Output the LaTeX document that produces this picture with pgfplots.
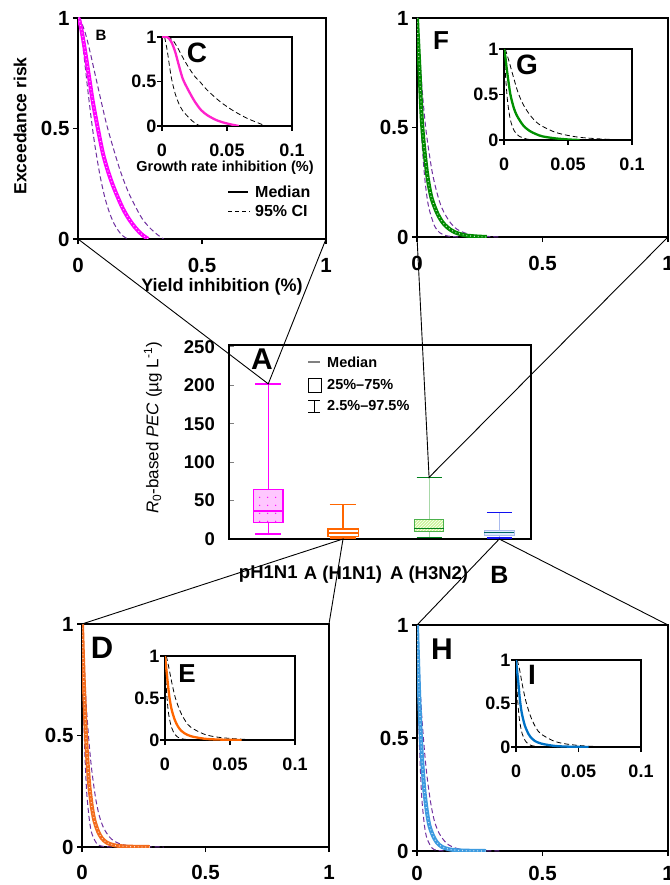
\documentclass[border=0pt]{standalone}
\usepackage{fontspec}
\setmainfont{Liberation Sans}
\usepackage{pgfplots}
\pgfplotsset{compat=1.18}
\usepgfplotslibrary{statistics}
\usetikzlibrary{patterns,patterns.meta}

\definecolor{cipurple}{HTML}{7030A0}
\definecolor{mag}{HTML}{FF00FF}
\definecolor{magin}{HTML}{FF22CC}
\definecolor{gmain}{HTML}{008A00}
\definecolor{gin}{HTML}{009000}
\definecolor{omain}{HTML}{F26B1D}
\definecolor{oin}{HTML}{FF6600}
\definecolor{bmain}{HTML}{3D9BE0}
\definecolor{bin}{HTML}{0072C6}
\definecolor{hgreen}{HTML}{CCF59A}
\definecolor{dgreen}{HTML}{00801A}
\definecolor{lgreen}{HTML}{A8D8A8}
\definecolor{lblue}{HTML}{AABBEE}
\definecolor{bblue}{HTML}{1010F0}
\definecolor{bfill}{HTML}{DDE8FF}

\newcommand{\fs}[1]{\fontsize{#1}{#1}\selectfont}

\tikzdeclarepattern{
  name=sdots,
  type=uncolored,
  bounding box={(0pt,0pt) and (8pt,8pt)},
  tile size={(8pt,8pt)},
  code={\fill (4pt,4pt) circle (0.8pt);}
}

\pgfplotsset{
  curvebase/.style={scale only axis, anchor=south west, ymin=0, ymax=1, xmin=0,
    ytick={0,0.5,1}, yticklabels={0,0.5,1},
    tick align=outside, tick pos=left,
    major tick length=5pt, tick style={black, line width=1.5pt},
    axis line style={line width=2pt},
    axis background/.style={fill=white},
  },
  mainp/.style={curvebase, xmax=1, xtick={0,0.5,1}, xticklabels={0,0.5,1},
    every tick label/.append style={font=\bfseries\fs{20.5}},
    xticklabel style={yshift=-11pt}},
  insetp/.style={curvebase, xmax=0.1, xtick={0,0.05,0.1}, xticklabels={0,0.05,0.1},
    every tick label/.append style={font=\bfseries\fs{18}},
    xticklabel style={yshift=-9pt}, yticklabel style={xshift=3pt}},
  ci/.style={cipurple, dash pattern=on 5pt off 3pt, line width=1pt, smooth},
  cii/.style={black, dash pattern=on 5pt off 3pt, line width=0.8pt, smooth},
  medmain/.style={line width=4pt, smooth},
  meddots/.style={white, line width=1.2pt, dash pattern=on 0.8pt off 3pt, smooth, opacity=0.75},
  medin/.style={line width=2.3pt, smooth},
}

\begin{document}
\begin{tikzpicture}
\useasboundingbox (0pt,0pt) rectangle (669pt,-885pt);

% ---------------- Panel A (box plots) ----------------
\begin{axis}[at={(229pt,-539pt)}, anchor=south west, scale only axis,
  width=302pt, height=194pt, xmin=0, xmax=4, ymin=0, ymax=252.6,
  boxplot/draw direction=y,
  ytick={0,50,100,150,200,250}, yticklabels={0,50,100,150,200,250},
  tick align=inside, ytick pos=left, major tick length=5pt,
  y tick style={gray, line width=1pt},
  xtick={0.52,1.51,2.65,3.58}, xticklabels={pH1N1,A (H1N1),A (H3N2),{\fs{25}B}},
  x tick style={draw=none},
  axis line style={line width=1.8pt},
  every tick label/.append style={font=\bfseries\fs{18.5}, inner sep=0pt},
  xticklabel style={anchor=north, yshift=-27pt},
  yticklabel style={xshift=-14pt}]
% pH1N1
\addplot[mag, line width=1.2pt, boxplot prepared={draw position=0.52,
  lower whisker=6.5, lower quartile=21.2, median=36.5, upper quartile=64.7,
  upper whisker=202, box extend=0.39, whisker extend=0.35},
  boxplot/every box/.style={fill=mag!22, postaction={pattern=sdots, pattern color=mag}}]
  coordinates {};
\addplot[mag, line width=1.6pt] coordinates {(0.345,202) (0.695,202)};
\addplot[mag, line width=1.6pt] coordinates {(0.345,6.5) (0.695,6.5)};
% A (H1N1)
\addplot[oin, line width=1.2pt, boxplot prepared={draw position=1.51,
  lower whisker=1.3, lower quartile=3, median=7.8, upper quartile=13,
  upper whisker=45, box extend=0.4, whisker extend=0.35},
  boxplot/every box/.style={fill=white}]
  coordinates {};
\addplot[oin, line width=1.8pt] coordinates {(1.335,45) (1.685,45)};
\addplot[oin, line width=1.6pt] coordinates {(1.335,1.3) (1.685,1.3)};
% A (H3N2)
\addplot[lgreen, line width=1pt, boxplot prepared={draw position=2.65,
  lower whisker=2.2, lower quartile=10.4, median=13.9, upper quartile=25.6,
  upper whisker=80.3, box extend=0.39, whisker extend=0.33},
  boxplot/every box/.style={draw=gin!70, fill=hgreen, postaction={pattern=north east lines, pattern color=white}},
  boxplot/every median/.style={draw=dgreen, line width=1.2pt}]
  coordinates {};
\addplot[dgreen, line width=1.6pt] coordinates {(2.485,80.3) (2.815,80.3)};
\addplot[dgreen, line width=1.6pt] coordinates {(2.485,2.2) (2.815,2.2)};
% B
\addplot[lblue, line width=1pt, boxplot prepared={draw position=3.58,
  lower whisker=1.7, lower quartile=4.8, median=8.2, upper quartile=10.8,
  upper whisker=34.7, box extend=0.4, whisker extend=0.33},
  boxplot/every box/.style={draw=lblue, fill=bfill},
  boxplot/every median/.style={draw=teal!80!black, line width=1.2pt}]
  coordinates {};
\addplot[bblue, line width=1.6pt] coordinates {(3.415,34.7) (3.745,34.7)};
\addplot[bblue, line width=1.6pt] coordinates {(3.415,1.7) (3.745,1.7)};
\coordinate (Ap) at (axis cs:0.52,202);
\coordinate (Ag) at (axis cs:2.65,80.3);
\coordinate (Ao) at (axis cs:1.51,0);
\coordinate (Ab) at (axis cs:3.58,0);
\end{axis}

% ---------------- Panel B (main, pH1N1) ----------------
\begin{axis}[mainp, at={(78pt,-239pt)}, width=248pt, height=221pt]
\addplot[ci] coordinates {(0,1) (0.01,0.95) (0.02,0.87) (0.03,0.77) (0.04,0.67) (0.055,0.53) (0.07,0.41) (0.09,0.28) (0.11,0.18) (0.13,0.11) (0.15,0.06) (0.175,0.02) (0.2,0)};
\addplot[ci] coordinates {(0,1) (0.01,0.99) (0.03,0.93) (0.05,0.84) (0.07,0.74) (0.09,0.64) (0.115,0.52) (0.14,0.42) (0.17,0.31) (0.2,0.22) (0.23,0.15) (0.26,0.09) (0.29,0.05) (0.32,0.02) (0.345,0)};
\addplot[medmain, mag] coordinates {(0,1) (0.005,0.99) (0.015,0.94) (0.03,0.84) (0.045,0.73) (0.06,0.62) (0.08,0.5) (0.1,0.39) (0.12,0.31) (0.14,0.245) (0.16,0.19) (0.18,0.14) (0.2,0.1) (0.22,0.067) (0.24,0.04) (0.26,0.018) (0.283,0)};
\addplot[meddots] coordinates {(0,1) (0.005,0.99) (0.015,0.94) (0.03,0.84) (0.045,0.73) (0.06,0.62) (0.08,0.5) (0.1,0.39) (0.12,0.31) (0.14,0.245) (0.16,0.19) (0.18,0.14) (0.2,0.1) (0.22,0.067) (0.24,0.04) (0.26,0.018) (0.283,0)};
\coordinate (Bbl) at (rel axis cs:0,0);
\coordinate (Bbr) at (rel axis cs:1,0);
\end{axis}

% Inset C
\begin{axis}[insetp, at={(162pt,-126pt)}, width=130pt, height=89pt]
\addplot[cii] coordinates {(0.002,1) (0.004,0.85) (0.006,0.65) (0.0075,0.52) (0.01,0.37) (0.013,0.25) (0.016,0.17) (0.019,0.12) (0.023,0.06) (0.028,0.01) (0.032,0)};
\addplot[cii] coordinates {(0.004,1) (0.008,0.97) (0.012,0.88) (0.016,0.77) (0.02,0.67) (0.025,0.56) (0.029,0.5) (0.035,0.4) (0.045,0.27) (0.055,0.17) (0.065,0.09) (0.073,0.04) (0.08,0)};
\addplot[medin, magin] coordinates {(0,1) (0.004,1) (0.007,0.95) (0.01,0.84) (0.013,0.68) (0.016,0.53) (0.02,0.41) (0.025,0.28) (0.03,0.18) (0.035,0.12) (0.042,0.065) (0.05,0.028) (0.059,0)};
\end{axis}

% ---------------- Panel F (main, H3N2) ----------------
\begin{axis}[mainp, at={(417pt,-237pt)}, width=251pt, height=219pt]
\addplot[ci] coordinates {(0,1) (0.005,0.84) (0.01,0.68) (0.015,0.54) (0.02,0.43) (0.03,0.28) (0.04,0.18) (0.05,0.12) (0.07,0.05) (0.09,0.02) (0.12,0.005) (0.17,0)};
\addplot[ci] coordinates {(0,1) (0.005,0.93) (0.01,0.84) (0.02,0.68) (0.03,0.55) (0.04,0.45) (0.06,0.3) (0.08,0.2) (0.1,0.13) (0.13,0.07) (0.16,0.035) (0.2,0.015) (0.25,0.005) (0.33,0)};
\addplot[medmain, gmain] coordinates {(0,1) (0.005,0.88) (0.01,0.76) (0.015,0.63) (0.02,0.52) (0.025,0.45) (0.03,0.39) (0.04,0.29) (0.05,0.22) (0.06,0.17) (0.08,0.11) (0.1,0.07) (0.12,0.045) (0.15,0.022) (0.2,0.006) (0.278,0)};
\addplot[meddots] coordinates {(0,1) (0.005,0.88) (0.01,0.76) (0.015,0.63) (0.02,0.52) (0.025,0.45) (0.03,0.39) (0.04,0.29) (0.05,0.22) (0.06,0.17) (0.08,0.11) (0.1,0.07) (0.12,0.045) (0.15,0.022) (0.2,0.006) (0.278,0)};
\coordinate (Fbl) at (rel axis cs:0,0);
\coordinate (Fbr) at (rel axis cs:1,0);
\end{axis}

% Inset G
\begin{axis}[insetp, at={(504pt,-140pt)}, width=128pt, height=91pt]
\addplot[cii] coordinates {(0,1) (0.001,0.75) (0.002,0.55) (0.003,0.4) (0.005,0.22) (0.008,0.1) (0.012,0.04) (0.018,0.01) (0.025,0)};
\addplot[cii] coordinates {(0.001,1) (0.004,0.86) (0.008,0.66) (0.011,0.52) (0.015,0.39) (0.02,0.28) (0.025,0.2) (0.03,0.15) (0.04,0.085) (0.05,0.05) (0.06,0.028) (0.075,0.012) (0.09,0.004) (0.1,0)};
\addplot[medin, gin] coordinates {(0,1) (0.001,0.92) (0.002,0.8) (0.0035,0.64) (0.005,0.5) (0.0075,0.36) (0.01,0.27) (0.015,0.16) (0.02,0.1) (0.025,0.065) (0.03,0.04) (0.04,0.018) (0.05,0.006) (0.059,0)};
\end{axis}

% ---------------- Panel D (main, H1N1) ----------------
\begin{axis}[mainp, at={(82pt,-847pt)}, width=247pt, height=223pt,
  xticklabel style={yshift=1pt}]
\addplot[ci] coordinates {(0,1) (0.003,0.8) (0.006,0.63) (0.01,0.47) (0.015,0.33) (0.02,0.23) (0.03,0.12) (0.04,0.06) (0.06,0.015) (0.08,0.004) (0.12,0)};
\addplot[ci] coordinates {(0,1) (0.005,0.9) (0.01,0.79) (0.015,0.68) (0.02,0.59) (0.03,0.45) (0.04,0.34) (0.055,0.22) (0.07,0.14) (0.09,0.08) (0.12,0.035) (0.16,0.012) (0.22,0.003) (0.33,0)};
\addplot[medmain, omain] coordinates {(0,1) (0.004,0.85) (0.008,0.72) (0.012,0.6) (0.016,0.5) (0.02,0.42) (0.025,0.34) (0.03,0.27) (0.04,0.18) (0.05,0.12) (0.065,0.07) (0.08,0.04) (0.1,0.02) (0.13,0.008) (0.18,0.002) (0.275,0)};
\addplot[meddots] coordinates {(0,1) (0.004,0.85) (0.008,0.72) (0.012,0.6) (0.016,0.5) (0.02,0.42) (0.025,0.34) (0.03,0.27) (0.04,0.18) (0.05,0.12) (0.065,0.07) (0.08,0.04) (0.1,0.02) (0.13,0.008) (0.18,0.002) (0.275,0)};
\coordinate (Dtl) at (rel axis cs:0,1);
\coordinate (Dtr) at (rel axis cs:1,1);
\end{axis}

% Inset E
\begin{axis}[insetp, at={(165pt,-740pt)}, width=130pt, height=84pt]
\addplot[cii] coordinates {(0,1) (0.001,0.62) (0.002,0.42) (0.003,0.29) (0.005,0.15) (0.008,0.06) (0.012,0.018) (0.02,0)};
\addplot[cii] coordinates {(0.001,1) (0.003,0.86) (0.005,0.7) (0.008,0.5) (0.012,0.33) (0.016,0.22) (0.02,0.15) (0.03,0.07) (0.04,0.035) (0.055,0.013) (0.07,0.004) (0.09,0)};
\addplot[medin, oin] coordinates {(0,1) (0.001,0.85) (0.002,0.7) (0.0033,0.52) (0.005,0.37) (0.0075,0.24) (0.01,0.16) (0.0125,0.11) (0.015,0.08) (0.02,0.045) (0.03,0.016) (0.04,0.006) (0.059,0)};
\end{axis}

% ---------------- Panel H (main, B) ----------------
\begin{axis}[mainp, at={(417pt,-851pt)}, width=251pt, height=226pt,
  xticklabel style={yshift=4pt}]
\addplot[ci] coordinates {(0,1) (0.003,0.8) (0.006,0.62) (0.01,0.46) (0.015,0.32) (0.02,0.22) (0.03,0.11) (0.04,0.055) (0.06,0.013) (0.08,0.003) (0.12,0)};
\addplot[ci] coordinates {(0,1) (0.005,0.9) (0.01,0.78) (0.015,0.67) (0.02,0.58) (0.03,0.44) (0.04,0.33) (0.055,0.21) (0.07,0.13) (0.09,0.075) (0.12,0.032) (0.16,0.011) (0.22,0.003) (0.33,0)};
\addplot[medmain, bmain] coordinates {(0,1) (0.004,0.85) (0.008,0.71) (0.012,0.59) (0.016,0.49) (0.02,0.41) (0.025,0.33) (0.03,0.26) (0.04,0.17) (0.05,0.11) (0.065,0.065) (0.08,0.037) (0.1,0.018) (0.13,0.007) (0.18,0.002) (0.275,0)};
\addplot[meddots] coordinates {(0,1) (0.004,0.85) (0.008,0.71) (0.012,0.59) (0.016,0.49) (0.02,0.41) (0.025,0.33) (0.03,0.26) (0.04,0.17) (0.05,0.11) (0.065,0.065) (0.08,0.037) (0.1,0.018) (0.13,0.007) (0.18,0.002) (0.275,0)};
\coordinate (Htl) at (rel axis cs:0,1);
\coordinate (Htr) at (rel axis cs:1,1);
\end{axis}

% Inset I
\begin{axis}[insetp, at={(516pt,-747pt)}, width=125pt, height=87pt]
\addplot[cii] coordinates {(0,1) (0.001,0.62) (0.002,0.42) (0.003,0.29) (0.005,0.15) (0.008,0.06) (0.012,0.018) (0.02,0)};
\addplot[cii] coordinates {(0.001,1) (0.003,0.88) (0.005,0.72) (0.008,0.52) (0.012,0.34) (0.016,0.22) (0.02,0.15) (0.03,0.07) (0.04,0.035) (0.055,0.012) (0.07,0.004) (0.09,0)};
\addplot[medin, bin] coordinates {(0,1) (0.001,0.86) (0.002,0.72) (0.003,0.56) (0.0045,0.4) (0.007,0.25) (0.01,0.15) (0.0125,0.1) (0.015,0.07) (0.02,0.04) (0.03,0.014) (0.04,0.005) (0.058,0)};
\end{axis}

% ---------------- Labels ----------------
\node[rotate=90, font=\bfseries\fs{17.5}] at (20pt,-126pt) {Exceedance risk};
\node[font=\bfseries\fs{18}] at (222pt,-287pt) {Yield inhibition (\%)};
\node[font=\bfseries\fs{14.5}] at (225pt,-168pt) {Growth rate inhibition (\%)};
\node[rotate=90, font=\fs{17}] at (153pt,-428pt) {\textit{R}\textsubscript{0}-based \textit{PEC} (µg L\textsuperscript{-1})};

\node[font=\bfseries\fs{15}] at (101pt,-35pt) {B};
\node[font=\bfseries\fs{28}] at (197pt,-53pt) {C};
\node[font=\bfseries\fs{26}] at (441pt,-41pt) {F};
\node[font=\bfseries\fs{28}] at (527pt,-65pt) {G};
\node[font=\bfseries\fs{30}] at (262pt,-359pt) {A};
\node[font=\bfseries\fs{31}] at (102pt,-648pt) {D};
\node[font=\bfseries\fs{26}] at (187pt,-674pt) {E};
\node[font=\bfseries\fs{30}] at (442pt,-649pt) {H};
\node[font=\bfseries\fs{28}] at (532pt,-675pt) {I};

% legend of B
\draw[black, line width=1.8pt] (228pt,-192pt) -- (248pt,-192pt);
\node[anchor=west, inner sep=0pt, font=\bfseries\fs{16}] at (255pt,-192pt) {Median};
\draw[black, line width=0.9pt, dash pattern=on 4pt off 3pt] (228pt,-211pt) -- (250pt,-211pt);
\node[anchor=west, inner sep=0pt, font=\bfseries\fs{16}] at (255pt,-211pt) {95\% CI};

% legend of A
\draw[gray, line width=1.5pt] (308pt,-362pt) -- (320pt,-362pt);
\node[anchor=west, inner sep=0pt, font=\bfseries\fs{14.5}] at (327pt,-362pt) {Median};
\draw[black, line width=0.8pt] (308pt,-378pt) rectangle (321pt,-392pt);
\node[anchor=west, inner sep=0pt, font=\bfseries\fs{14.5}] at (327pt,-385pt) {25\%–75\%};
\draw[black, line width=0.8pt] (308pt,-400pt) -- (320pt,-400pt) (314pt,-400pt) -- (314pt,-412pt) (308pt,-412pt) -- (320pt,-412pt);
\node[anchor=west, inner sep=0pt, font=\bfseries\fs{14.5}] at (327pt,-406pt) {2.5\%–97.5\%};

% connectors
\draw[black, line width=0.9pt] (Bbl) -- (Ap) -- (Bbr);
\draw[black, line width=0.9pt] (Fbl) -- (Ag) -- (Fbr);
\draw[black, line width=0.9pt] (Dtl) -- (Ao) -- (Dtr);
\draw[black, line width=0.9pt] (Htl) -- (Ab) -- (Htr);
\end{tikzpicture}
\end{document}
